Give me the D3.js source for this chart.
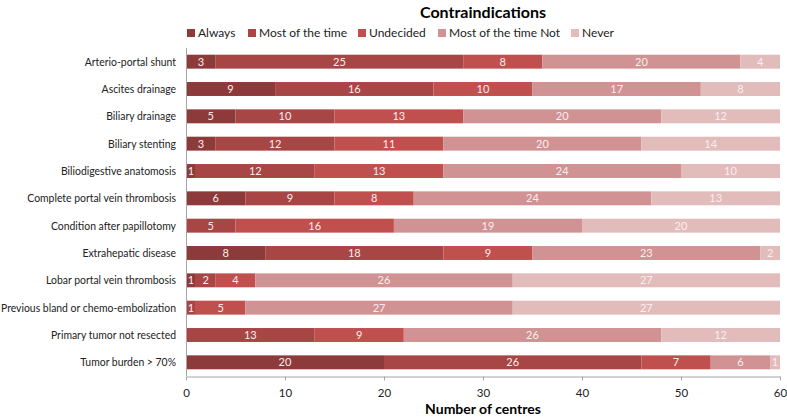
<!DOCTYPE html>
<html>
<head>
<meta charset="utf-8">
<script src="https://cdn.jsdelivr.net/npm/d3@7"></script>
<style>
  html, body { margin: 0; padding: 0; background: #fff; }
  svg { display: block; font-family: Lato, "Open Sans", sans-serif; }
</style>
</head>
<body>
<svg id="chart" width="787" height="418"></svg>
<script>
const categories = [
  "Arterio-portal shunt",
  "Ascites drainage",
  "Biliary drainage",
  "Biliary stenting",
  "Biliodigestive anatomosis",
  "Complete portal vein thrombosis",
  "Condition after papillotomy",
  "Extrahepatic disease",
  "Lobar portal vein thrombosis",
  "Previous bland or chemo-embolization",
  "Primary tumor not resected",
  "Tumor burden > 70%"
];
const seriesNames = ["Always", "Most of the time", "Undecided", "Most of the time Not", "Never"];
const always          = [3, 9, 5, 3, 1, 6, 0, 8, 1, 0, 0, 20];
const mostOfTheTime   = [25, 16, 10, 12, 12, 9, 5, 18, 2, 1, 13, 26];
const undecided       = [8, 10, 13, 11, 13, 8, 16, 9, 4, 5, 9, 7];
const mostOfTheTimeNot= [20, 17, 20, 20, 24, 24, 19, 23, 26, 27, 26, 6];
const never           = [4, 8, 12, 14, 10, 13, 20, 2, 27, 27, 12, 1];
const xTicks = [0, 10, 20, 30, 40, 50, 60];
const colors = ["#8D3A3A", "#A84545", "#C0504D", "#D09292", "#E2BBBB"];

const seriesValues = [always, mostOfTheTime, undecided, mostOfTheTimeNot, never];
const rows = categories.map((c, i) => {
  const r = { category: c };
  seriesNames.forEach((s, j) => r[s] = seriesValues[j][i]);
  return r;
});

const svg = d3.select("#chart");

const x = d3.scaleLinear().domain([0, 60]).range([186, 780]);
const y = d3.scaleBand().domain(categories).range([48, 376]).paddingInner(0.49).paddingOuter(0.245);

const stack = d3.stack().keys(seriesNames)(rows);
const color = d3.scaleOrdinal().domain(seriesNames).range(colors);

// Title
svg.append("text")
  .attr("x", 483).attr("y", 18)
  .attr("text-anchor", "middle")
  .attr("font-size", 16).attr("font-weight", "bold").attr("fill", "#000")
  .text("Contraindications");

// Legend
const legendX = [187, 248, 358, 438, 571];
const lg = svg.append("g");
seriesNames.forEach((s, i) => {
  const g = lg.append("g").attr("transform", `translate(${legendX[i]},33)`);
  g.append("rect").attr("x", 0).attr("y", -4).attr("width", 8).attr("height", 8).attr("fill", colors[i]);
  g.append("text").attr("x", 11).attr("y", 0).attr("dy", "0.35em")
    .attr("font-size", 12).attr("fill", "#222").text(s);
});

// Bars
const layers = svg.append("g").selectAll("g").data(stack).join("g")
  .attr("fill", d => color(d.key));
layers.selectAll("rect").data(d => d).join("rect")
  .attr("x", d => x(d[0]))
  .attr("y", d => y(d.data.category))
  .attr("width", d => x(d[1]) - x(d[0]))
  .attr("height", y.bandwidth());

// Value labels
const labels = svg.append("g");
stack.forEach(layer => {
  layer.forEach(d => {
    const v = d[1] - d[0];
    if (v <= 0) return;
    labels.append("text")
      .attr("x", (x(d[0]) + x(d[1])) / 2)
      .attr("y", y(d.data.category) + y.bandwidth() / 2)
      .attr("dy", "0.36em")
      .attr("text-anchor", "middle")
      .attr("font-size", 11).attr("fill", "#fbeeee")
      .text(v);
  });
});

// Y axis labels + line
svg.append("line").attr("x1", 186.5).attr("x2", 186.5).attr("y1", 48).attr("y2", 376)
  .attr("stroke", "#a6a6a6");
const ylab = svg.append("g").selectAll("text").data(categories).join("text")
  .attr("x", 176).attr("y", d => y(d) + y.bandwidth() / 2).attr("dy", "0.35em")
  .attr("text-anchor", "end").attr("font-size", 11).attr("fill", "#222")
  .text(d => d);
// condense glyphs slightly (the original face is narrower) so the longest label fits in ~175px
let maxW = 0;
ylab.each(function() { maxW = Math.max(maxW, this.getComputedTextLength()); });
const k = Math.min(1, 175 / maxW);
ylab.each(function() {
  const w = this.getComputedTextLength();
  d3.select(this).attr("textLength", w * k).attr("lengthAdjust", "spacingAndGlyphs");
});

// X axis
const xAxis = svg.append("g").attr("transform", "translate(0,376.5)")
  .call(d3.axisBottom(x).tickValues(xTicks).tickSize(4).tickPadding(8).tickSizeOuter(0));
xAxis.select(".domain").attr("stroke", "#a6a6a6");
xAxis.selectAll(".tick line").attr("stroke", "#a6a6a6");
xAxis.selectAll(".tick text").attr("font-size", 11.5).attr("fill", "#222").attr("font-family", "Lato, sans-serif");

svg.append("text")
  .attr("x", 483).attr("y", 414)
  .attr("text-anchor", "middle")
  .attr("font-size", 14).attr("font-weight", "bold").attr("fill", "#000")
  .text("Number of centres");
</script>
</body>
</html>
